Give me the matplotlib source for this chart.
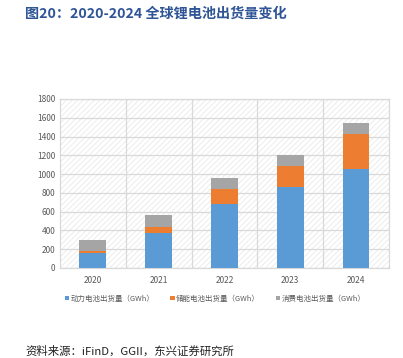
import numpy as np
import matplotlib
matplotlib.use("Agg")
import matplotlib.pyplot as plt

plt.rcParams['font.family'] = ['Noto Sans CJK SC', 'DejaVu Sans']
plt.rcParams['hatch.linewidth'] = 0.5

years = ['2020', '2021', '2022', '2023', '2024']
power = [158, 371, 684, 865, 1050]      # 动力电池
storage = [22, 66, 159, 225, 372]       # 储能电池
consumer = [114, 125, 114, 112, 123]    # 消费电池
labels = ['动力电池出货量（GWh）', '储能电池出货量（GWh）', '消费电池出货量（GWh）']
colors = ['#5B9BD5', '#ED7D31', '#A5A5A5']

fig = plt.figure(figsize=(4.03, 3.58), dpi=100)
ax = fig.add_axes([0.149, 0.2514, 0.816, 0.4721])

ax.patch.set_facecolor('white')
ax.patch.set_hatch('//////')
ax.patch.set_edgecolor('#E6E6E6')
ax.patch.set_linewidth(0)

x = np.arange(len(years))
w = 0.41
b1 = ax.bar(x, power, w, color=colors[0], label=labels[0], zorder=3)
bottom2 = np.array(power)
b2 = ax.bar(x, storage, w, bottom=bottom2, color=colors[1], label=labels[1], zorder=3)
bottom3 = bottom2 + np.array(storage)
b3 = ax.bar(x, consumer, w, bottom=bottom3, color=colors[2], label=labels[2], zorder=3)

ax.set_xlim(-0.5, 4.5)
ax.set_ylim(0, 1800)
ax.set_yticks(range(0, 1801, 200))
ax.set_xticks(x)
ax.set_xticklabels(years)
ax.set_xticks(np.arange(0.5, 4.5, 1), minor=True)
ax.grid(axis='y', color='#D9D9D9', linewidth=0.9, zorder=1)
ax.grid(axis='x', which='minor', color='#D9D9D9', linewidth=0.9, zorder=1)
ax.tick_params(axis='both', which='both', length=0, labelsize=6, labelcolor='#595959')
ax.tick_params(axis='x', pad=6)
for s in ax.spines.values():
    s.set_color('#D9D9D9')
    s.set_linewidth(0.9)

leg = fig.legend(handles=[b1, b2, b3], labels=labels, loc='center', bbox_to_anchor=(0.534, 0.166),
                 ncol=3, frameon=False, fontsize=5.4, handlelength=0.6, handleheight=0.6,
                 handletextpad=0.2, columnspacing=2.1, labelcolor='#595959')

fig.text(0.062, 0.962, '图20：2020-2024 全球锂电池出货量变化', fontsize=10.2, fontweight='bold',
         color='#2F5597', va='center', ha='left')
fig.text(0.062, 0.018, '资料来源：iFinD，GGII，东兴证券研究所', fontsize=8.2, style='italic',
         color='#222222', va='center', ha='left')

fig.savefig('out.png', dpi=100)
